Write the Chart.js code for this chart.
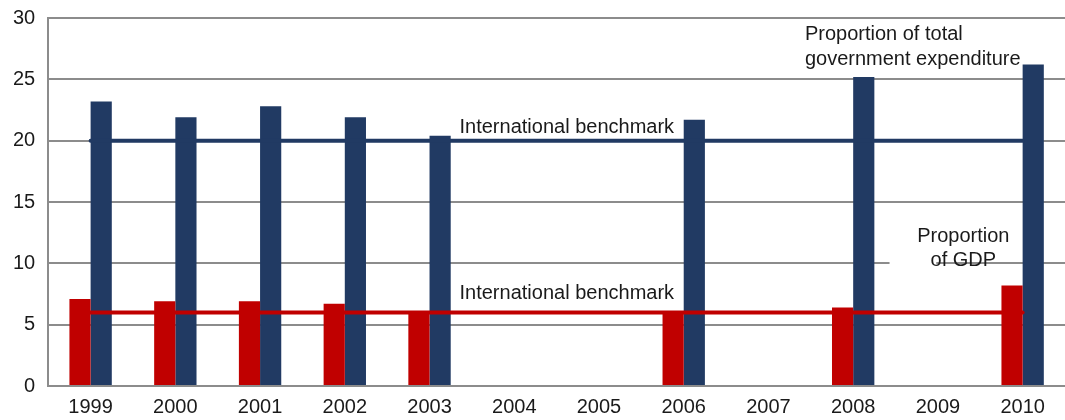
<!DOCTYPE html>
<html>
<head>
<meta charset="utf-8">
<script src="https://cdn.jsdelivr.net/npm/chart.js@4"></script>
<style>
  html, body { margin: 0; padding: 0; background: #fff; }
</style>
</head>
<body>
<canvas id="chart" width="1065" height="420"></canvas>
<script>
// education spending, % share per year
const years = ["1999", "2000", "2001", "2002", "2003", "2004", "2005", "2006", "2007", "2008", "2009", "2010"];
const shareOfGdp = [7.1, 6.9, 6.9, 6.7, 6.0, null, null, 6.0, null, 6.4, null, 8.2];
const shareOfSpending = [23.2, 21.9, 22.8, 21.9, 20.4, null, null, 21.7, null, 25.2, null, 26.2];
const gdpBenchmark = [6, 6, 6, 6, 6, 6, 6, 6, 6, 6, 6, 6];
const spendingBenchmark = [20, 20, 20, 20, 20, 20, 20, 20, 20, 20, 20, 20];
const yTicks = [0, 5, 10, 15, 20, 25, 30];

const RED = "#c00000";
const NAVY = "#213a63";
const GRID = "#8c8c8c";
const INK = "#1a1a1a";
const FONT_FAMILY = "'Liberation Sans', Arial, Helvetica, sans-serif";
const FONT_SIZE = 20;

// text labels sitting inside the plot
const notes = {
  id: "notes",
  beforeDatasetsDraw(chart) {
    const { ctx, scales: { x, y } } = chart;
    // white patch behind the GDP caption, hides the grid line
    const left = x.getPixelForValue(9.5) - 6;
    const right = x.getPixelForValue(10.5) - 44;
    ctx.save();
    ctx.fillStyle = "#fff";
    ctx.fillRect(left, y.getPixelForValue(13.5), right - left, y.getPixelForValue(8.8) - y.getPixelForValue(13.5));
    ctx.restore();
  },
  afterDatasetsDraw(chart) {
    const { ctx, scales: { x, y } } = chart;
    ctx.save();
    ctx.font = FONT_SIZE + "px " + FONT_FAMILY;
    ctx.fillStyle = INK;
    ctx.textBaseline = "alphabetic";
    ctx.textAlign = "center";
    const mid = x.getPixelForValue(5.62);
    ctx.fillText("International benchmark", mid, y.getPixelForValue(20) - 8);
    ctx.fillText("International benchmark", mid, y.getPixelForValue(6) - 13);

    const gdpX = x.getPixelForValue(10.3);
    ctx.fillText("Proportion", gdpX, y.getPixelForValue(11.7));
    ctx.fillText("of GDP", gdpX, y.getPixelForValue(9.8));

    ctx.textAlign = "left";
    const topX = x.getPixelForValue(8.43);
    ctx.fillText("Proportion of total", topX, y.getPixelForValue(28.2));
    ctx.fillText("government expenditure", topX, y.getPixelForValue(26.2));
    ctx.restore();
  }
};

new Chart(document.getElementById("chart"), {
  type: "bar",
  data: {
    labels: years,
    datasets: [
      {
        type: "line",
        data: spendingBenchmark,
        borderColor: NAVY,
        borderWidth: 4,
        borderCapStyle: "round",
        pointRadius: 0,
        order: 0
      },
      {
        type: "line",
        data: gdpBenchmark,
        borderColor: RED,
        borderWidth: 4,
        borderCapStyle: "round",
        pointRadius: 0,
        order: 0
      },
      {
        data: shareOfGdp,
        backgroundColor: RED,
        categoryPercentage: 0.5,
        barPercentage: 1.0,
        order: 1
      },
      {
        data: shareOfSpending,
        backgroundColor: NAVY,
        categoryPercentage: 0.5,
        barPercentage: 1.0,
        order: 1
      }
    ]
  },
  options: {
    responsive: false,
    animation: false,
    layout: { padding: { top: 18, right: 0, bottom: -8, left: 0 } },
    plugins: {
      legend: { display: false },
      tooltip: { enabled: false }
    },
    scales: {
      x: {
        grid: { display: false, drawTicks: false },
        border: { display: false },
        ticks: {
          color: INK,
          padding: 9,
          maxRotation: 0,
          font: { family: FONT_FAMILY, size: FONT_SIZE }
        }
      },
      y: {
        min: 0,
        max: 30,
        afterBuildTicks(axis) {
          axis.ticks = yTicks.map(v => ({ value: v }));
        },
        afterFit(axis) {
          // the tick padding would otherwise push the plot down
          axis.paddingTop = 0;
          axis.paddingBottom = 0;
        },
        grid: { color: GRID, lineWidth: 2, drawTicks: false },
        border: { color: GRID, width: 2 },
        ticks: {
          color: INK,
          padding: 13,
          font: { family: FONT_FAMILY, size: FONT_SIZE }
        }
      }
    }
  },
  plugins: [notes]
});
</script>
</body>
</html>
